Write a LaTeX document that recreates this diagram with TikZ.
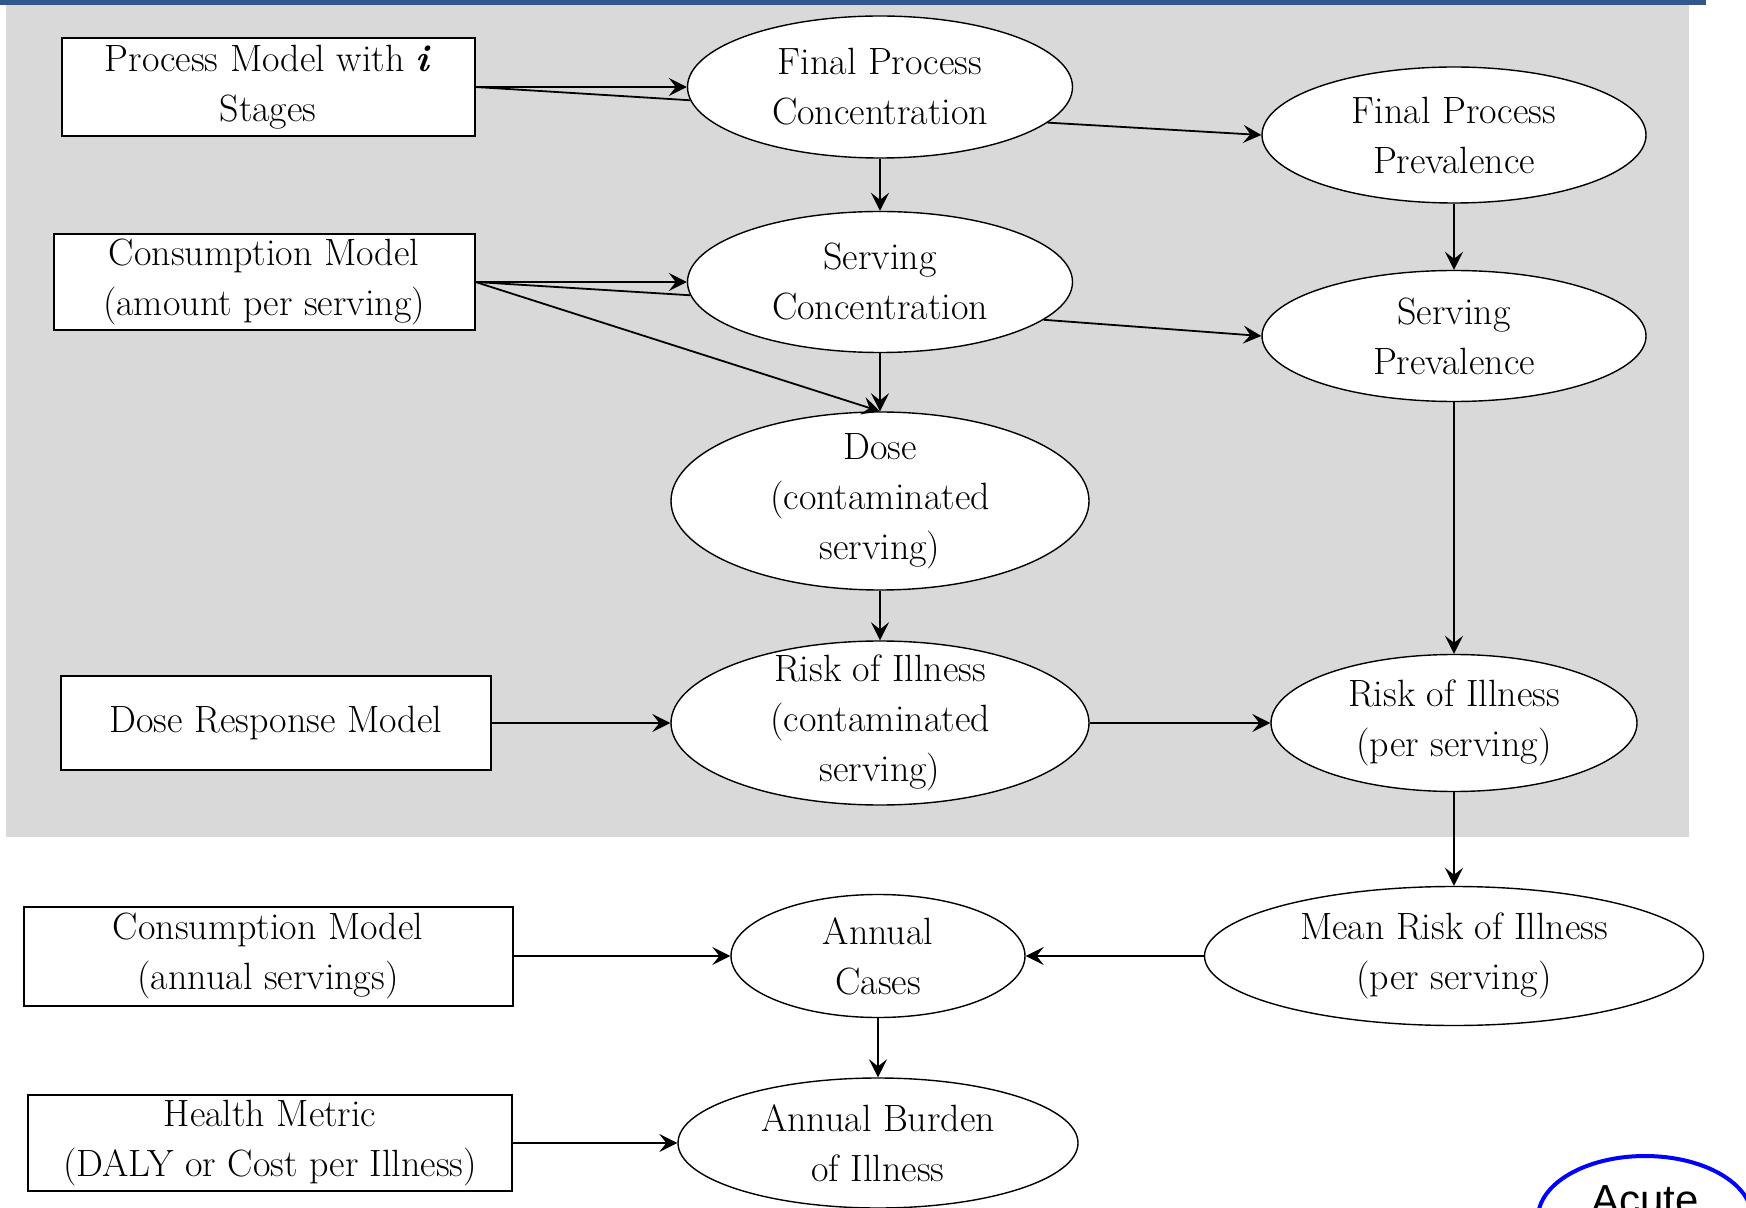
\documentclass[tikz,border=0pt]{standalone}
\usepackage{fontspec}
\newfontfamily\acutefont{Liberation Sans}
\usetikzlibrary{arrows.meta,shapes.geometric}
\definecolor{qrbar}{HTML}{31578C}
\definecolor{qrpanel}{HTML}{D9D9D9}
\definecolor{qracute}{HTML}{0000FF}
\tikzset{
  modbox/.style 2 args={draw=black,line width=1pt,fill=white,inner sep=0pt,align=center,
              minimum width=#1,minimum height=#2,font=\fontsize{19}{25}\selectfont},
  qty/.style 2 args={ellipse,draw=black,line width=0.7pt,fill=white,inner sep=0pt,align=center,
              minimum width=#1,minimum height=#2,font=\fontsize{19}{25}\selectfont},
  tall/.style={inner ysep=-6pt},
  flow/.style={-{Stealth[length=9pt,width=9pt,inset=3.5pt]},line width=0.9pt},
  link/.style={line width=0.9pt},
}

\begin{document}
\begin{tikzpicture}[x=0.5pt,y=-0.5pt]
  \useasboundingbox (0,0) rectangle (1746,1208);

  % ---- backdrop ----
  \fill[qrpanel] (6,5) rectangle (1689,837);
  \fill[qrbar] (0,0) rectangle (1706,5);

  % ---- model inputs ----
  \node[modbox={206.5pt}{49pt}]   (pm)  at (268,87)   {Process Model with \textbf{\textit{i}}\\Stages};
  \node[modbox={210.5pt}{48pt}]   (cma) at (264,282)  {Consumption Model\\(amount per serving)};
  \node[modbox={215pt}{47pt}]     (drm) at (276,723)  {Dose Response Model};
  \node[modbox={244.5pt}{49.5pt}] (cmy) at (268,956)  {Consumption Model\\(annual servings)};
  \node[modbox={242pt}{48pt}]     (hm)  at (270,1143) {Health Metric\\(DALY or Cost per Illness)};

  % ---- quantities ----
  \node[qty={192.5pt}{71pt}]         (fpc)  at (880,87)   {Final Process\\Concentration};
  \node[qty={192pt}{68pt}]           (fpp)  at (1454,135) {Final Process\\Prevalence};
  \node[qty={192.5pt}{70.5pt}]       (sc)   at (880,282)  {Serving\\Concentration};
  \node[qty={192pt}{65.5pt}]         (sp)   at (1454,336) {Serving\\Prevalence};
  \node[qty={209pt}{89pt},tall]      (dose) at (880,501)  {Dose\\(contaminated\\serving)};
  \node[qty={209pt}{82pt},tall]      (ric)  at (880,723)  {Risk of Illness\\(contaminated\\serving)};
  \node[qty={183pt}{68.5pt}]         (rps)  at (1454,723) {Risk of Illness\\(per serving)};
  \node[qty={249.5pt}{69.5pt}]       (mri)  at (1454,956) {Mean Risk of Illness\\(per serving)};
  \node[qty={147pt}{61.5pt}]         (ac)   at (878,956)  {Annual\\Cases};
  \node[qty={200pt}{65pt}]           (abi)  at (878,1143) {Annual Burden\\of Illness};
  \node[ellipse,draw=qracute,line width=2pt,inner sep=0pt,minimum width=107pt,minimum height=62pt,
        text depth=18pt,font=\acutefont\fontsize{21}{25}\selectfont] (acute) at (1645,1218) {Acute};

  % ---- connectors ----
  \draw[flow] (pm.east) -- (fpc.west);
  \draw[link] (pm.east) -- (fpc.184);
  \draw[flow] (cma.east) -- (sc.west);
  \draw[link] (cma.east) -- (sc.184);
  \draw[flow] (cma.east) -- (dose.north);
  \draw[flow] (fpc.south) -- (sc.north);
  \draw[flow] (sc.south) -- (dose.north);
  \draw[flow] (fpc.-12) -- (fpp.west);
  \draw[flow] (sc.-13) -- (sp.west);
  \draw[flow] (fpp.south) -- (sp.north);
  \draw[flow] (sp.south) -- (rps.north);
  \draw[flow] (dose.south) -- (ric.north);
  \draw[flow] (drm.east) -- (ric.west);
  \draw[flow] (ric.east) -- (rps.west);
  \draw[flow] (rps.south) -- (mri.north);
  \draw[flow] (mri.west) -- (ac.east);
  \draw[flow] (cmy.east) -- (ac.west);
  \draw[flow] (ac.south) -- (abi.north);
  \draw[flow] (hm.east) -- (abi.west);
\end{tikzpicture}
\end{document}
